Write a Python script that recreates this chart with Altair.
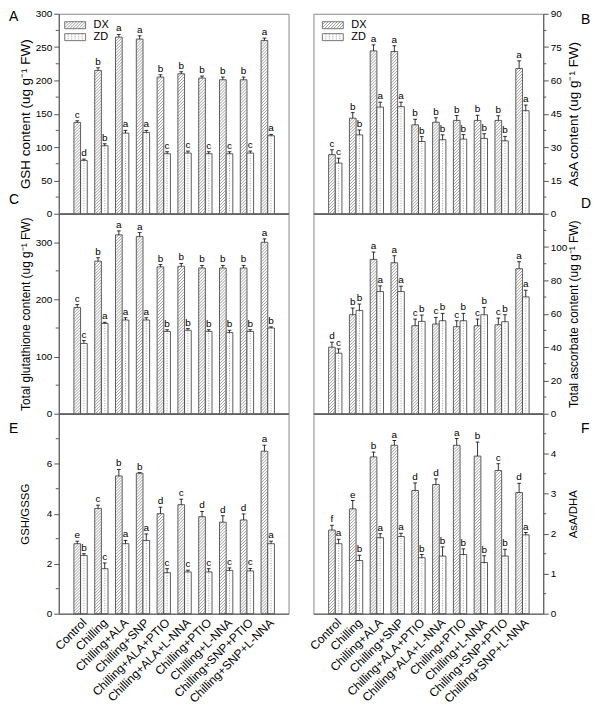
import altair as alt
import pandas as pd
import numpy as np

categories = ["Control", "Chilling", "Chilling+ALA", "Chilling+SNP", "Chilling+ALA+PTIO",
              "Chilling+ALA+L-NNA", "Chilling+PTIO", "Chilling+L-NNA",
              "Chilling+SNP+PTIO", "Chilling+SNP+L-NNA"]

# A: GSH content
gsh_dx = [137, 215, 265, 262, 205, 210, 203.5, 201, 201, 260]
gsh_dx_err = [2.5, 4, 4, 5, 3.5, 3, 3, 4, 4, 3.5]
gsh_zd = [80, 102, 121, 122, 90, 91, 90, 90, 91, 117]
gsh_zd_err = [2, 3, 4, 3, 3, 3, 3, 3, 3, 2]
gsh_dx_sig = list("cbaabbbbba")
gsh_zd_sig = list("dbaaccccca")

# B: AsA content
asa_dx = [26.6, 43, 73.3, 73, 40, 41.2, 42, 42, 42, 65.4]
asa_dx_err = [2.2, 2.5, 2.7, 2.6, 2.5, 2, 2.2, 2.3, 2.1, 3.4]
asa_zd = [22.8, 35.5, 48, 48.2, 32.5, 33.3, 33.6, 33.9, 32.8, 46.4]
asa_zd_err = [2.2, 2.2, 2.2, 2, 2.2, 2.2, 2, 2.1, 2, 2.5]
asa_dx_sig = list("cbaabbbbba")
asa_zd_sig = list("cbaabbbbba")

# C: total glutathione
tg_dx = [186, 267, 313, 310, 257, 258, 255, 255, 255, 300]
tg_dx_err = [5, 6, 7, 7, 4, 5, 4.5, 4.5, 4.5, 6]
tg_zd = [123, 158, 164, 164, 144, 146, 144, 142, 144, 150]
tg_zd_err = [5, 2, 4, 4, 3, 3, 3, 4, 3, 2]
tg_dx_sig = list("cbaabbbbba")
tg_zd_sig = list("caaabbbbbb")

# D: total ascorbate
ta_dx = [39.9, 59.4, 92.6, 90.6, 52.8, 53.8, 52.2, 52.8, 53.4, 87]
ta_dx_err = [3, 4, 4.4, 4.2, 4, 4, 3.6, 4, 4, 4.2]
ta_zd = [36.3, 62, 73.3, 73.3, 55.4, 55.8, 55.8, 59.4, 55.2, 70.1]
ta_zd_err = [2.6, 3.8, 3.4, 3.2, 3.8, 4.4, 4.4, 4.4, 4.2, 4]
ta_dx_sig = list("dbaaccccca")
ta_zd_sig = list("cbaabbbbba")

# E: GSH/GSSG
gr_dx = [2.8, 4.21, 5.51, 5.62, 4.0, 4.36, 3.88, 3.66, 3.75, 6.5]
gr_dx_err = [0.1, 0.13, 0.26, 0.02, 0.26, 0.22, 0.21, 0.26, 0.24, 0.24]
gr_zd = [2.33, 1.8, 2.8, 2.93, 1.64, 1.67, 1.67, 1.73, 1.71, 2.8]
gr_zd_err = [0.07, 0.23, 0.13, 0.26, 0.16, 0.07, 0.13, 0.1, 0.1, 0.1]
gr_dx_sig = list("ecbbdcddda")
gr_zd_sig = list("bcaaccccca")

# F: AsA/DHA
ar_dx = [2.09, 2.62, 3.92, 4.21, 3.08, 3.23, 4.21, 3.94, 3.58, 3.03]
ar_dx_err = [0.12, 0.21, 0.12, 0.12, 0.19, 0.14, 0.17, 0.35, 0.17, 0.23]
ar_zd = [1.75, 1.33, 1.9, 1.93, 1.4, 1.44, 1.48, 1.28, 1.44, 1.97]
ar_zd_err = [0.11, 0.13, 0.1, 0.08, 0.08, 0.23, 0.14, 0.17, 0.17, 0.06]
ar_dx_sig = list("febaddabcd")
ar_zd_sig = list("abaabbbbba")

# axis ticks (major) and minor ticks
ticks_A = [0, 50, 100, 150, 200, 250, 300]
minor_A = [25, 75, 125, 175, 225, 275]
ticks_B = [0, 15, 30, 45, 60, 75, 90]
minor_B = [7.5, 22.5, 37.5, 52.5, 67.5, 82.5]
ticks_C = [0, 100, 200, 300]
minor_C = [50, 150, 250]
ticks_D = [0, 20, 40, 60, 80, 100]
minor_D = [10, 30, 50, 70, 90, 110]
ticks_E = [0, 2, 4, 6]
minor_E = [1, 3, 5, 7]
ticks_F = [0, 1, 2, 3, 4]
minor_F = [0.5, 1.5, 2.5, 3.5, 4.5]

UNIT = " (ug g\u207b\u00b9 FW)"
W = 0.32
CAP = 0.09
XDOM = [-1.05, 10.0]
PW, PH = 231, 201
PX_PER_CAT = PW / (XDOM[1] - XDOM[0])
GAP = 3.0
FONT = "Liberation Sans"

label_expr = "[" + ",".join("'%s'" % c for c in categories) + "][datum.value]"


def legend_layers(L0, T0):
    sw = pd.DataFrame({"lab": ["DX", "ZD"], "x0": [L0, L0], "x1": [L0 + 21, L0 + 21],
                       "y0": [T0, T0 + 12], "y1": [T0 + 7, T0 + 19],
                       "tx": [L0 + 29, L0 + 29], "ty": [T0 + 3.5, T0 + 15.5]})
    rect = alt.Chart(sw).mark_rect(fill="white", stroke="#555", strokeWidth=0.8).encode(
        x=alt.X("x0:Q", scale=None), x2="x1:Q",
        y=alt.Y("y0:Q", scale=None), y2="y1:Q")
    segs = []
    for a in np.arange(L0 - 7, L0 + 21, 3.0):
        xa, ya, xb, yb = a, T0 + 7, a + 7, T0
        if xa < L0:
            ya -= (L0 - xa); xa = L0
        if xb > L0 + 21:
            yb += (xb - (L0 + 21)); xb = L0 + 21
        if xb > xa:
            segs.append(dict(xa=xa, ya=ya, xb=xb, yb=yb))
    hat = alt.Chart(pd.DataFrame(segs)).mark_rule(stroke="#777", strokeWidth=0.7).encode(
        x=alt.X("xa:Q", scale=None), x2="xb:Q",
        y=alt.Y("ya:Q", scale=None), y2="yb:Q")
    dots = pd.DataFrame({"xd": [L0 + 3.5 * k for k in range(1, 6)]})
    dots["ya"] = T0 + 12
    dots["yb"] = T0 + 19
    dt = alt.Chart(dots).mark_rule(stroke="#888", strokeWidth=0.8, strokeDash=[1, 1]).encode(
        x=alt.X("xd:Q", scale=None),
        y=alt.Y("ya:Q", scale=None), y2="yb:Q")
    txt = alt.Chart(sw).mark_text(align="left", baseline="middle", fontSize=11, font=FONT).encode(
        x=alt.X("tx:Q", scale=None), y=alt.Y("ty:Q", scale=None), text="lab:N")
    return [rect, hat, dt, txt]


def panel(dx, dxe, zd, zde, sdx, szd, ymax, ticks, minor, title, tsize, letter, letter_y, side,
          bottom, legend=None):
    rows = []
    for i in range(10):
        rows.append(dict(i=i, g="DX", v=dx[i], e=dxe[i], sig=sdx[i]))
        rows.append(dict(i=i, g="ZD", v=zd[i], e=zde[i], sig=szd[i]))
    df = pd.DataFrame(rows)
    ppu = PH / ymax
    dy = W * PX_PER_CAT / ppu
    step = GAP / ppu
    xs = alt.Scale(domain=XDOM, nice=False, zero=False)
    ysc = alt.Scale(domain=[0, ymax], nice=False, zero=True)
    if bottom:
        xaxis = alt.Axis(values=list(range(10)), labelExpr=label_expr, labelAngle=315,
                         labelAlign="right", labelBaseline="top", labelFontSize=12,
                         labelPadding=3, ticks=False, domainColor="#555", title=None,
                         grid=False, labelOverlap=False, labelFlush=False, labelColor="black")
    else:
        xaxis = alt.Axis(labels=False, ticks=False, title=None, grid=False,
                         domainColor="black", domainWidth=1.5)
    yaxis = alt.Axis(orient=side, values=ticks, title=title,
                     titleX=(-33 if side == "left" else 30), titleY=PH / 2,
                     titleAngle=270, titleAlign="center", titleBaseline="middle",
                     titleFontSize=tsize, titleFontWeight="normal", titleColor="black",
                     tickSize=5, tickColor="#555", domainColor="#555",
                     labelFontSize=10, labelColor="black", labelPadding=2, grid=False)

    def X(f):
        return alt.X(f, scale=xs, axis=xaxis)

    def Y(f):
        return alt.Y(f, scale=ysc, axis=yaxis)

    base = alt.Chart(df)
    bars = base.transform_calculate(
        xa="datum.g=='DX' ? datum.i-%f : datum.i" % W,
        xb="datum.g=='DX' ? datum.i : datum.i+%f" % W,
        z="0").mark_rect(fill="white", stroke="#333", strokeWidth=0.8).encode(
        x=X("xa:Q"), x2="xb:Q", y=Y("v:Q"), y2="z:Q")
    hatch = base.transform_filter("datum.g=='DX'").transform_calculate(
        ys="sequence(%f, datum.v, %f)" % (-dy, step)).transform_flatten(["ys"]).transform_calculate(
        ya="max(datum.ys, 0)", yb="min(datum.ys+%f, datum.v)" % dy).transform_calculate(
        xa="datum.i-%f+(datum.ya-datum.ys)/%f*%f" % (W, dy, W),
        xb="datum.i-%f+(datum.yb-datum.ys)/%f*%f" % (W, dy, W)).transform_filter(
        "datum.yb>datum.ya").mark_rule(stroke="#777", strokeWidth=0.7).encode(
        x=X("xa:Q"), x2="xb:Q", y=Y("ya:Q"), y2="yb:Q")
    dots = base.transform_filter("datum.g=='ZD'").transform_calculate(
        xm="datum.i+%f" % (W / 2), z="0").mark_rule(
        stroke="#888", strokeWidth=0.8, strokeDash=[1, 1.5]).encode(
        x=X("xm:Q"), y=Y("z:Q"), y2="v:Q")
    eb = base.transform_calculate(
        xc="datum.g=='DX' ? datum.i-%f : datum.i+%f" % (W / 2, W / 2),
        top="datum.v+datum.e").transform_calculate(
        xl="datum.xc-%f" % CAP, xr="datum.xc+%f" % CAP)
    stem = eb.mark_rule(stroke="black", strokeWidth=0.8).encode(
        x=X("xc:Q"), y=Y("v:Q"), y2="top:Q")
    cap = eb.mark_rule(stroke="black", strokeWidth=0.8).encode(
        x=X("xl:Q"), x2="xr:Q", y=Y("top:Q"))
    sig = eb.mark_text(baseline="bottom", dy=-1, fontSize=10, font=FONT).encode(
        x=X("xc:Q"), y=Y("top:Q"), text="sig:N")
    if side == "left":
        mx0, mx1 = 0, -3
    else:
        mx0, mx1 = PW, PW + 3
    mt = alt.Chart(pd.DataFrame({"m": minor})).mark_rule(stroke="#555", strokeWidth=1).encode(
        x=alt.value(mx0), x2=alt.value(mx1), y=Y("m:Q"))
    lx = -50 if side == "left" else PW + 38
    let = alt.Chart(pd.DataFrame({"t": [letter]})).mark_text(
        align="left", baseline="top", fontSize=14, font=FONT).encode(
        x=alt.value(lx), y=alt.value(letter_y), text="t:N")
    layers = [bars, hatch, dots, stem, cap, sig, mt, let]
    if legend is not None:
        layers += legend_layers(*legend)
    return alt.layer(*layers).properties(width=PW, height=PH)


pA = panel(gsh_dx, gsh_dx_err, gsh_zd, gsh_zd_err, gsh_dx_sig, gsh_zd_sig, 300, ticks_A, minor_A,
           "GSH content" + UNIT, 13.5, "A", -4, "left", False, (6, 8))
pB = panel(asa_dx, asa_dx_err, asa_zd, asa_zd_err, asa_dx_sig, asa_zd_sig, 90, ticks_B, minor_B,
           "AsA content" + UNIT, 13.5, "B", -1, "right", False, (9, 8))
pC = panel(tg_dx, tg_dx_err, tg_zd, tg_zd_err, tg_dx_sig, tg_zd_sig, 350, ticks_C, minor_C,
           "Total glutathione content" + UNIT, 12, "C", -21, "left", False)
pD = panel(ta_dx, ta_dx_err, ta_zd, ta_zd_err, ta_dx_sig, ta_zd_sig, 120, ticks_D, minor_D,
           "Total ascorbate content" + UNIT, 12, "D", -17, "right", False)
pE = panel(gr_dx, gr_dx_err, gr_zd, gr_zd_err, gr_dx_sig, gr_zd_sig, 8, ticks_E, minor_E,
           "GSH/GSSG", 11.5, "E", 8, "left", True)
pF = panel(ar_dx, ar_dx_err, ar_zd, ar_zd_err, ar_dx_sig, ar_zd_sig, 5, ticks_F, minor_F,
           "AsA/DHA", 11.5, "F", 8, "right", True)

chart = alt.concat(pA, pB, pC, pD, pE, pF, columns=2,
                   spacing={"row": 0, "column": 25}, bounds="flush").properties(
    padding={"left": 0, "top": -2, "right": 0, "bottom": 0}
).configure(font=FONT).configure_view(stroke="#888", strokeWidth=1).configure_axis(grid=False)

chart.save("out.html", embed_options={"renderer": "svg", "actions": False})
